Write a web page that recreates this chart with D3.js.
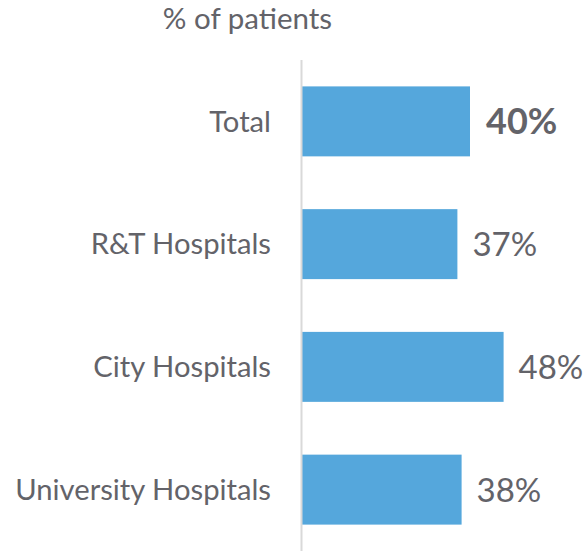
<!DOCTYPE html>
<html>
<head>
<meta charset="utf-8">
<script src="https://cdn.jsdelivr.net/npm/d3@7"></script>
<style>
  body { margin: 0; background: #fff; }
  text { font-family: Lato, "Open Sans", sans-serif; fill: #636369; }
</style>
</head>
<body>
<script>
const categories = ["Total", "R&T Hospitals", "City Hospitals", "University Hospitals"];
const values = [40, 37, 48, 38];
const title = "% of patients";

const width = 587, height = 551;
const margin = { top: 60, bottom: 0, left: 302 };

const svg = d3.select("body").append("svg").attr("width", width).attr("height", height);

const y = d3.scaleBand()
  .domain(categories)
  .range([margin.top, height - margin.bottom])
  .paddingInner(0.43)
  .paddingOuter(0.215);

const x = d3.scaleLinear()
  .domain([0, 100])
  .range([margin.left, margin.left + 420]);

// bars
svg.append("g")
  .selectAll("rect")
  .data(categories)
  .join("rect")
  .attr("x", x(0))
  .attr("y", d => y(d))
  .attr("width", (d, i) => x(values[i]) - x(0))
  .attr("height", y.bandwidth())
  .attr("fill", "#55A7DC");

// vertical axis line
svg.append("line")
  .attr("x1", x(0) - 0.5).attr("x2", x(0) - 0.5)
  .attr("y1", margin.top).attr("y2", height)
  .attr("stroke", "#d9d9d9")
  .attr("stroke-width", 2);

// category labels
const yAxis = d3.axisLeft(y).tickSize(0).tickPadding(0);
svg.append("g")
  .attr("transform", `translate(271,0)`)
  .call(yAxis)
  .call(g => g.select(".domain").remove())
  .selectAll("text")
  .attr("font-size", 29.2)
  .attr("font-family", null)
  .attr("fill", null)
  .attr("dy", "0.35em");

// value labels, first one (Total) bold and a bit larger
svg.append("g")
  .selectAll("text")
  .data(categories)
  .join("text")
  .attr("x", (d, i) => x(values[i]) + (i === 0 ? 16 : 15))
  .attr("y", d => y(d) + y.bandwidth() / 2)
  .attr("dy", "0.36em")
  .attr("font-size", (d, i) => i === 0 ? 36 : 33)
  .attr("font-weight", (d, i) => i === 0 ? "bold" : "normal")
  .text((d, i) => values[i] + "%");

// title
svg.append("text")
  .attr("x", 247.5)
  .attr("y", 29)
  .attr("text-anchor", "middle")
  .attr("font-size", 29.5)
  .text(title);
</script>
</body>
</html>
